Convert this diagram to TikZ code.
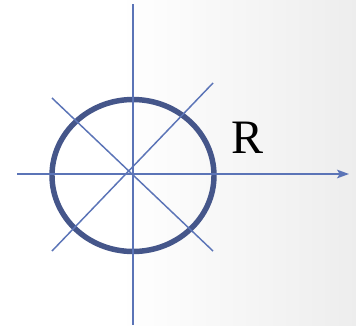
\documentclass[tikz,border=0pt]{standalone}
\usepackage{fontspec}
\setmainfont{Liberation Serif}
\usetikzlibrary{arrows.meta,positioning}

\definecolor{axisblue}{HTML}{5B74B7}
\definecolor{ringblue}{HTML}{45568A}

\begin{document}
\begin{tikzpicture}[
  x=0.75pt, y=-0.75pt,
  axis/.style={draw=axisblue, line width=1.1pt},
  ring/.style={draw=ringblue, line width=4.1pt},
  label/.style={font=\fontsize{36}{40}\selectfont, inner sep=0pt}
  ]

% background
\useasboundingbox (0,0) rectangle (356,325);
\fill[white] (0,0) rectangle (120,325);
\shade[left color=white, right color=black!7] (120,0) rectangle (356,325);

% end points of the lines
\coordinate (top) at (133,4);
\coordinate (bottom) at (133,325);
\coordinate (left) at (17,174);
\coordinate (right) at (349,174);
\coordinate (nw) at (52,98);
\coordinate (se) at (213,251);
\coordinate (sw) at (52,251);
\coordinate (ne) at (213,83);

% the ring
\coordinate (centre) at (133,175.5);
\draw[ring] (centre) ellipse [x radius=81, y radius=76];

% the lines
\draw[axis] (top) -- (bottom);
\draw[axis, -{Stealth[length=9pt, width=6.5pt, inset=2pt]}] (left) -- (right);
\draw[axis] (nw) -- (se);
\draw[axis] (sw) -- (ne);

% label
\node[label] (rlabel) at (247.5,138) {R};

\end{tikzpicture}
\end{document}
